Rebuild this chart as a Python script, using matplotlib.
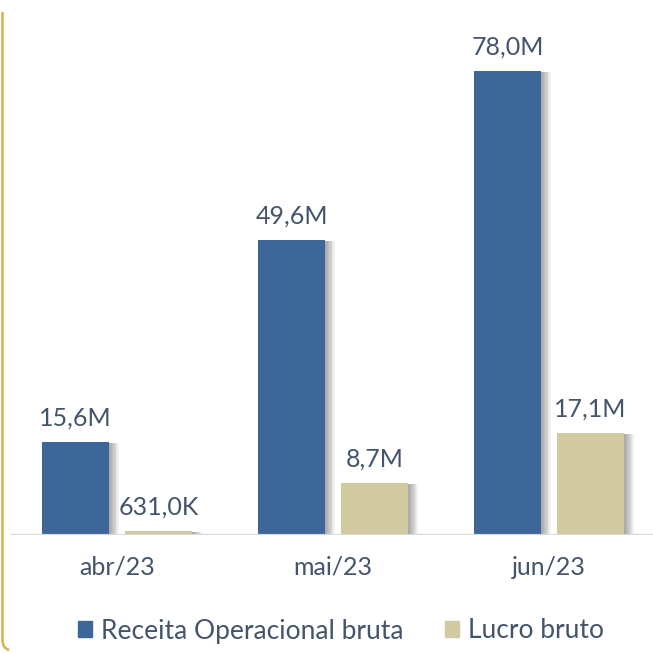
import matplotlib
matplotlib.use("Agg")
import matplotlib.pyplot as plt
import matplotlib.patheffects as pe
from matplotlib.patches import Patch
from matplotlib.path import Path
from matplotlib.patches import PathPatch
import numpy as np

categories = ["abr/23", "mai/23", "jun/23"]
receita = [15.6, 49.6, 78.0]          # millions
lucro = [0.631, 8.7, 17.1]            # millions
receita_labels = ["15,6M", "49,6M", "78,0M"]
lucro_labels = ["631,0K", "8,7M", "17,1M"]
series_names = ["Receita Operacional bruta", "Lucro bruto"]

BLUE = "#3D6699"
TAN = "#D1C99F"
TEXT = "#44546A"
FONT = ["Lato", "DejaVu Sans"]
plt.rcParams["font.family"] = FONT

W = H = 653
fig = plt.figure(figsize=(6.53, 6.53), dpi=100)
fig.patch.set_facecolor("white")

base_px = 535
left_px, right_px = 11, 653
ax = fig.add_axes([left_px / W, (H - base_px) / H, (right_px - left_px) / W, base_px / H])
center0, step = 117, 216
ax.set_xlim((left_px - center0) / step, (right_px - center0) / step)
ax.set_ylim(0, 89.9)

x = np.arange(len(categories))
bw = 0.31
off = 0.192

shadow = [pe.SimplePatchShadow(offset=(d, -0.8), shadow_rgbFace="#000000", alpha=0.055)
          for d in (7.0, 6.0, 5.0, 4.0, 3.0, 2.0, 1.0)] + [pe.Normal()]

b1 = ax.bar(x - off, receita, bw, color=BLUE, zorder=3)
b2 = ax.bar(x + off, lucro, bw, color=TAN, zorder=3)
for b in list(b1) + list(b2):
    b.set_path_effects(shadow)

FS = 18
for xi, v, lab in zip(x, receita, receita_labels):
    ax.annotate(lab, (xi - off, v), xytext=(0, 9), textcoords="offset points",
                ha="center", va="bottom", fontsize=FS, color=TEXT)
for xi, v, lab in zip(x, lucro, lucro_labels):
    ax.annotate(lab, (xi + off, v), xytext=(0, 9), textcoords="offset points",
                ha="center", va="bottom", fontsize=FS, color=TEXT)

ax.axhline(0, color="#D9D9D9", lw=1.6, zorder=4)
for s in ax.spines.values():
    s.set_visible(False)
ax.set_yticks([])
ax.set_xticks(x)
ax.set_xticklabels(categories, fontsize=FS, color=TEXT)
ax.tick_params(axis="x", length=0, pad=15)
ax.set_facecolor("none")

handles = [Patch(color=BLUE), Patch(color=TAN)]
fig.legend(handles, series_names, loc="center", bbox_to_anchor=(341 / W, (H - 631) / H),
           ncol=2, frameon=False, fontsize=19, labelcolor=TEXT,
           handlelength=0.55, handleheight=0.55, handletextpad=0.35, columnspacing=1.55)

# golden left border with rounded bottom corner
verts = [(2.5, H - 12), (2.5, H - 640), (2.5, H - 648), (9, H - 650)]
codes = [Path.MOVETO, Path.LINETO, Path.CURVE3, Path.CURVE3]
fx = [(vx / W, vy / H) for vx, vy in verts]
fig.add_artist(PathPatch(Path(fx, codes), transform=fig.transFigure,
                         fill=False, edgecolor="#D4B24E", lw=1.8))

fig.savefig("out.png", dpi=100)
